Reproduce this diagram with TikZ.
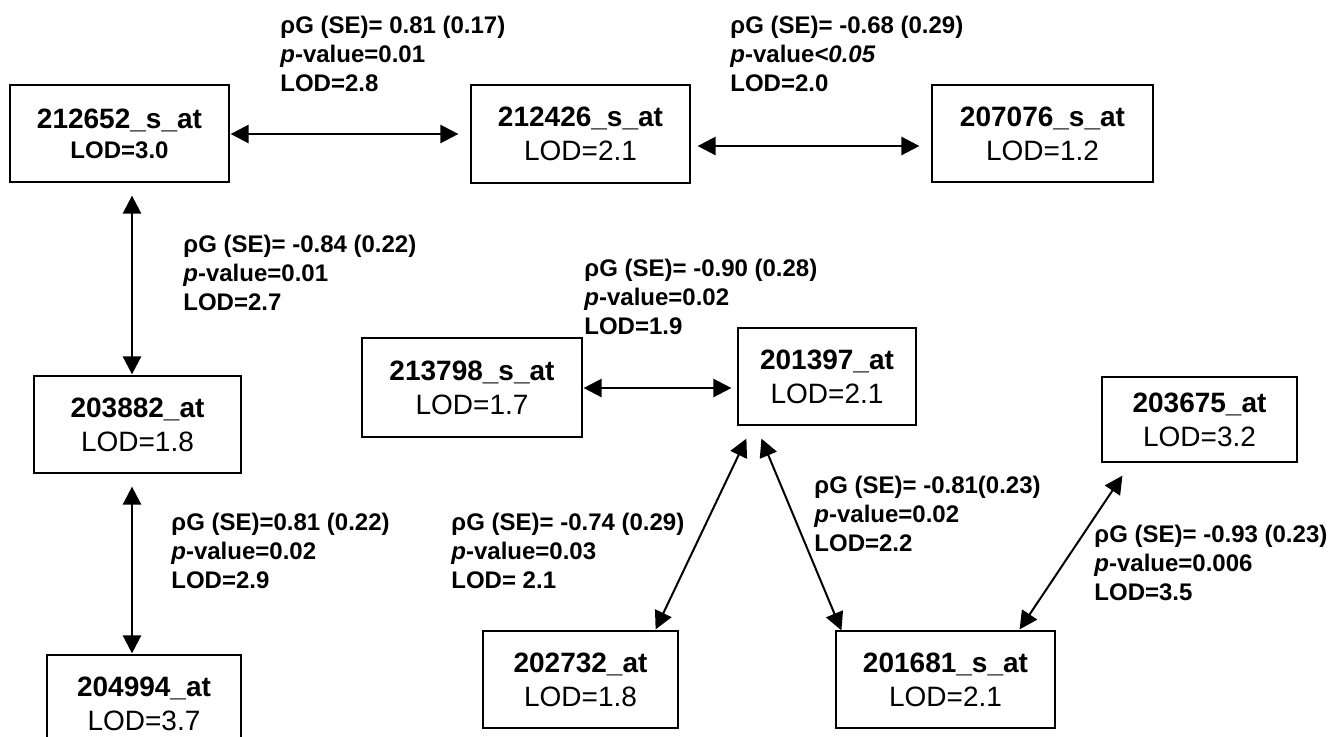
\documentclass[tikz,border=0pt]{standalone}
\usepackage{fontspec}
\setmainfont{Liberation Sans}
\usetikzlibrary{arrows.meta, calc}
\tikzset{
  probe/.style={draw, line width=0.6pt, align=center, inner sep=0pt,
    font=\fontsize{14}{17}\selectfont},
  corr/.style={align=left, anchor=north west, inner sep=0pt,
    font=\bfseries\fontsize{12}{14.5}\selectfont},
  both arrow/.style={{Triangle[length=9pt,width=9pt]}-{Triangle[length=9pt,width=9pt]}, line width=1.25pt},
  thin arrow/.style={both arrow, line width=1pt}
}
\begin{document}
\begin{tikzpicture}[x=0.5pt, y=-0.5pt]
\useasboundingbox (0,0) rectangle (1331,736);

%top row
\node[probe, minimum width=109.5pt, minimum height=48.5pt] (n212652) at (119.5,133.5) {\textbf{212652\_s\_at}\\[-2pt]\textbf{\fontsize{12}{15}\selectfont LOD=3.0}};
\node[probe, minimum width=109.5pt, minimum height=49pt] (n212426) at (580.5,134) {\textbf{212426\_s\_at}\\LOD=2.1};
\node[probe, minimum width=110.5pt, minimum height=48.5pt] (n207076) at (1042.5,133.5) {\textbf{207076\_s\_at}\\LOD=1.2};

\draw[both arrow] ($(n212652.east)+(1,0.5)$) -- ($(n212426.west)+(-12,0)$);
\draw[both arrow] ($(n212426.east)+(7,12)$) -- ($(n207076.west)+(-12,12.5)$);

\node[corr] (r1) at (280,16) {ρG (SE)= 0.81 (0.17)\\\textit{p}-value=0.01\\LOD=2.8};
\node[corr] (r2) at (730,16) {ρG (SE)= -0.68 (0.29)\\\textit{p}-value\textit{<0.05}\\LOD=2.0};

%left column
\node[probe, minimum width=103.5pt, minimum height=48.5pt] (n203882) at (137.5,424.5) {\textbf{203882\_at}\\LOD=1.8};
\node[probe, minimum width=97pt, minimum height=48.5pt] (n204994) at (144,703.5) {\textbf{204994\_at}\\LOD=3.7};

\draw[both arrow] ($(n212652.south)+(12.5,13)$) -- ($(n203882.north)+(-5.5,-1)$);
\draw[both arrow] ($(n203882.south)+(-5.5,13)$) -- ($(n204994.north)+(-12,-1)$);

\node[corr] (r3) at (183,235) {ρG (SE)= -0.84 (0.22)\\\textit{p}-value=0.01\\LOD=2.7};
\node[corr] (r4) at (171,513) {ρG (SE)=0.81 (0.22)\\\textit{p}-value=0.02\\LOD=2.9};

%middle
\node[probe, minimum width=110pt, minimum height=49.5pt] (n213798) at (472,387.5) {\textbf{213798\_s\_at}\\LOD=1.7};
\node[probe, minimum width=89pt, minimum height=48.5pt] (n201397) at (827,376.5) {\textbf{201397\_at}\\LOD=2.1};
\node[probe, minimum width=97.5pt, minimum height=42.5pt] (n203675) at (1199.5,419.5) {\textbf{203675\_at}\\LOD=3.2};
\node[probe, minimum width=97.5pt, minimum height=48.5pt] (n202732) at (580.5,679.5) {\textbf{202732\_at}\\LOD=1.8};
\node[probe, minimum width=109.5pt, minimum height=48.5pt] (n201681) at (945.5,679.5) {\textbf{201681\_s\_at}\\LOD=2.1};

\draw[both arrow] ($(n213798.east)+(1,0.5)$) -- ($(n201397.west)+(-6,11.5)$);
\draw[thin arrow] ($(n201397.south west)+(9,13)$) -- ($(n202732.north east)+(-23,-1)$);
\draw[thin arrow] ($(n201397.south west)+(24,13)$) -- ($(n201681.north west)+(6,0)$);
\draw[thin arrow] ($(n201681.north east)+(-36,-1)$) -- ($(n203675.south west)+(21,13)$);

\node[corr] (r5) at (584,259) {ρG (SE)= -0.90 (0.28)\\\textit{p}-value=0.02\\LOD=1.9};
\node[corr] (r6) at (451,513) {ρG (SE)= -0.74 (0.29)\\\textit{p}-value=0.03\\LOD= 2.1};
\node[corr] (r7) at (814,476) {ρG (SE)= -0.81(0.23)\\\textit{p}-value=0.02\\LOD=2.2};
\node[corr] (r8) at (1094,525) {ρG (SE)= -0.93 (0.23)\\\textit{p}-value=0.006\\LOD=3.5};

\end{tikzpicture}
\end{document}
